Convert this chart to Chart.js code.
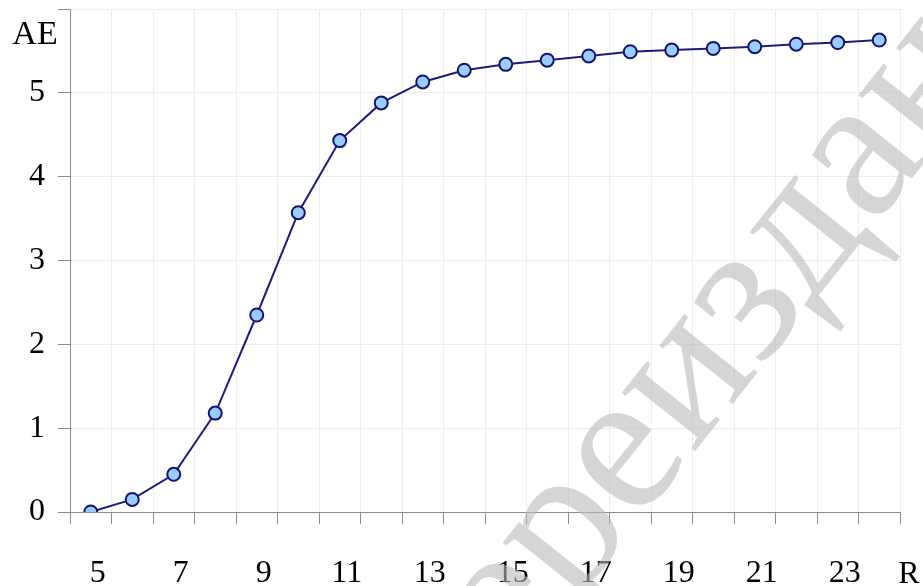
<!DOCTYPE html>
<html>
<head>
<meta charset="utf-8">
<script src="https://cdn.jsdelivr.net/npm/chart.js@4"></script>
<style>
  html, body { margin: 0; padding: 0; background: #fff; }
</style>
</head>
<body>
<canvas id="myChart" width="923" height="586"></canvas>
<script>
// Data
const categories = [5, 6, 7, 8, 9, 10, 11, 12, 13, 14, 15, 16, 17, 18, 19, 20, 21, 22, 23, 24];
const aeValues = [0.0, 0.15, 0.45, 1.18, 2.35, 3.57, 4.43, 4.88, 5.13, 5.27, 5.34, 5.39, 5.44, 5.49, 5.51, 5.53, 5.55, 5.58, 5.60, 5.63];
const xLabelsShown = [5, 7, 9, 11, 13, 15, 17, 19, 21, 23];
const yTicks = [0, 1, 2, 3, 4, 5];
const yAxisName = "AE";
const xAxisName = "R";
const watermarkText = "переиздан";

const serif = "'Liberation Serif', 'Times New Roman', serif";
const axisGray = "#8c8c8c";
const gridGray = "#ececec";

// axis names and the watermark, drawn on top of the chart
const extras = {
  id: "extras",
  afterDraw(chart) {
    const ctx = chart.ctx;
    const area = chart.chartArea;
    ctx.save();
    ctx.fillStyle = "#000";
    ctx.font = "34px " + serif;
    ctx.textAlign = "center";
    ctx.textBaseline = "middle";
    ctx.fillText(yAxisName, area.left / 2, area.top + 26);
    ctx.font = "32px " + serif;
    ctx.fillText(xAxisName, area.right + 9, area.bottom + 63);

    // watermark, anchored on the "и"
    const size = 204;
    ctx.font = size + "px " + serif;
    ctx.textAlign = "left";
    ctx.textBaseline = "alphabetic";
    ctx.fillStyle = "rgba(185,185,185,0.6)";
    const lead = ctx.measureText(watermarkText.slice(0, 4)).width;
    const half = ctx.measureText(watermarkText.charAt(4)).width / 2;
    ctx.translate(690, 382);
    ctx.rotate(-51.5 * Math.PI / 180);
    ctx.fillText(watermarkText, -(lead + half), 0.23 * size);
    ctx.restore();
  }
};

let ctx = document.getElementById("myChart").getContext("2d");

var data = {
  labels: categories,
  datasets: [
    {
      data: aeValues,
      borderColor: "#1c1c80",
      borderWidth: 2,
      pointBackgroundColor: "#99ccff",
      pointBorderColor: "#14146e",
      pointBorderWidth: 2,
      pointRadius: 6.5,
      tension: 0,
      fill: false
    }
  ]
};

var options = {
  responsive: false,
  animation: false,
  layout: { padding: { top: 9, right: 23, bottom: 0, left: 0 } },
  plugins: {
    legend: { display: false },
    tooltip: { enabled: false }
  },
  scales: {
    x: {
      type: "category",
      offset: true,
      grid: { offset: true, color: gridGray, tickColor: axisGray, tickLength: 12 },
      border: { color: axisGray, width: 1 },
      ticks: {
        autoSkip: false,
        maxRotation: 0,
        color: "#000",
        font: { family: serif, size: 32 },
        padding: 30,
        labelOffset: 7,
        callback: function (v, i) {
          const c = categories[i];
          return xLabelsShown.includes(c) ? String(c) : "";
        }
      },
      afterFit: function (s) {
        s.height = 74;
        s.paddingLeft = 0;
        s.paddingRight = 0;
      }
    },
    y: {
      min: 0,
      max: 6,
      grid: { color: gridGray, tickColor: axisGray, tickLength: 12 },
      border: { color: axisGray, width: 1 },
      ticks: {
        stepSize: 1,
        color: "#000",
        font: { family: serif, size: 32 },
        padding: 13,
        callback: function (v) {
          return yTicks.includes(v) ? String(v) : "";
        }
      },
      afterFit: function (s) {
        s.width = 70;
        s.paddingTop = 0;
        s.paddingBottom = 0;
      }
    }
  }
};

var myChart = new Chart(ctx, {
  type: "line",
  data: data,
  options: options,
  plugins: [extras]
});
</script>
</body>
</html>
